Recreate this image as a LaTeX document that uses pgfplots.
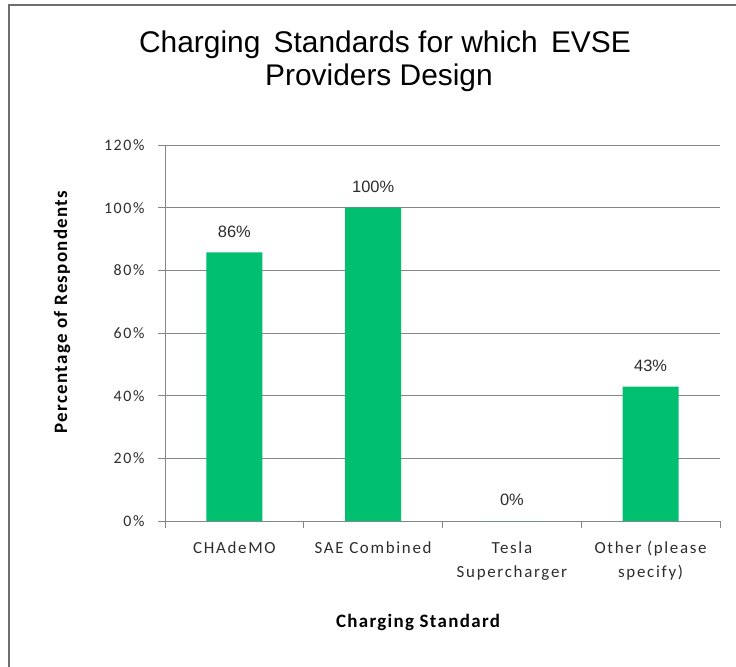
\documentclass[border=0pt]{standalone}
\usepackage{pgfplots}
\pgfplotsset{compat=1.18}
\usepackage{fontspec}
\setmainfont{Carlito}
\newfontfamily\lblfont[LetterSpace=10]{Carlito}
\newfontfamily\bldfont[LetterSpace=7]{Carlito}
\newfontfamily\titlefont{Liberation Sans}
\definecolor{bargreen}{RGB}{0,191,111}
\definecolor{gridgray}{RGB}{134,134,134}
\definecolor{framegray}{RGB}{110,110,110}
\definecolor{textgray}{RGB}{45,45,45}
\begin{document}
\begin{tikzpicture}[x=1bp,y=1bp]
\path[use as bounding box] (0,0) rectangle (736,-667);
\fill[white] (0,0) rectangle (736,-667);
\draw[framegray, line width=2bp] (9,-667) -- (9,-5) -- (736,-5);
\node[font=\titlefont\fontsize{30}{34}\selectfont, inner sep=0pt] at (385,-45) {Charging\, Standards for which\, EVSE};
\node[font=\titlefont\fontsize{30}{34}\selectfont, inner sep=0pt] at (379,-78) {Providers Design};
\node[font=\bldfont\bfseries\fontsize{19}{22}\selectfont, rotate=90, inner sep=0pt] at (62,-312) {Percentage of Respondents};
\node[font=\bldfont\bfseries\fontsize{19}{22}\selectfont, inner sep=0pt] at (418,-622) {Charging Standard};
\begin{axis}[
  at={(165bp,-521bp)}, anchor=south west,
  width=555bp, height=376bp, scale only axis,
  xmin=0.5, xmax=4.5, ymin=0, ymax=120,
  /pgf/number format/assume math mode=true,
  axis x line*=bottom, axis y line*=left,
  axis line style={draw=gridgray, line width=0.8bp, -},
  ytick={0,20,...,120},
  yticklabel={\pgfmathprintnumber{\tick}\%},
  ymajorgrids, grid style={gridgray, line width=0.8bp},
  tick align=outside,
  major tick length=7bp, minor tick length=7bp,
  y tick style={gridgray, line width=0.8bp},
  xtick={1,2,3,4},
  major x tick style={draw=none},
  minor xtick={0.5,1.5,2.5,3.5,4.5},
  minor x tick style={gridgray, line width=0.8bp},
  xticklabels={CHAdeMO, SAE Combined, {Tesla\\Supercharger}, {Other (please\\specify)}},
  xticklabel style={align=center, font=\lblfont\fontsize{17}{24}\selectfont, text=textgray, yshift=-10bp},
  yticklabel style={font=\lblfont\fontsize{16}{18}\selectfont, text=textgray, xshift=-10bp},
  clip=false,
]
\addplot[ybar, fill=bargreen, draw=none, bar width=56bp,
  point meta=y,
  nodes near coords={\pgfmathprintnumber[fixed,precision=0]{\pgfplotspointmeta}\%},
  every node near coord/.append style={anchor=center, yshift=21bp, font=\titlefont\fontsize{16.5}{18}\selectfont, text=textgray}]
  coordinates {(1,85.71) (2,100) (3,0) (4,42.86)};
\end{axis}
\end{tikzpicture}
\end{document}
